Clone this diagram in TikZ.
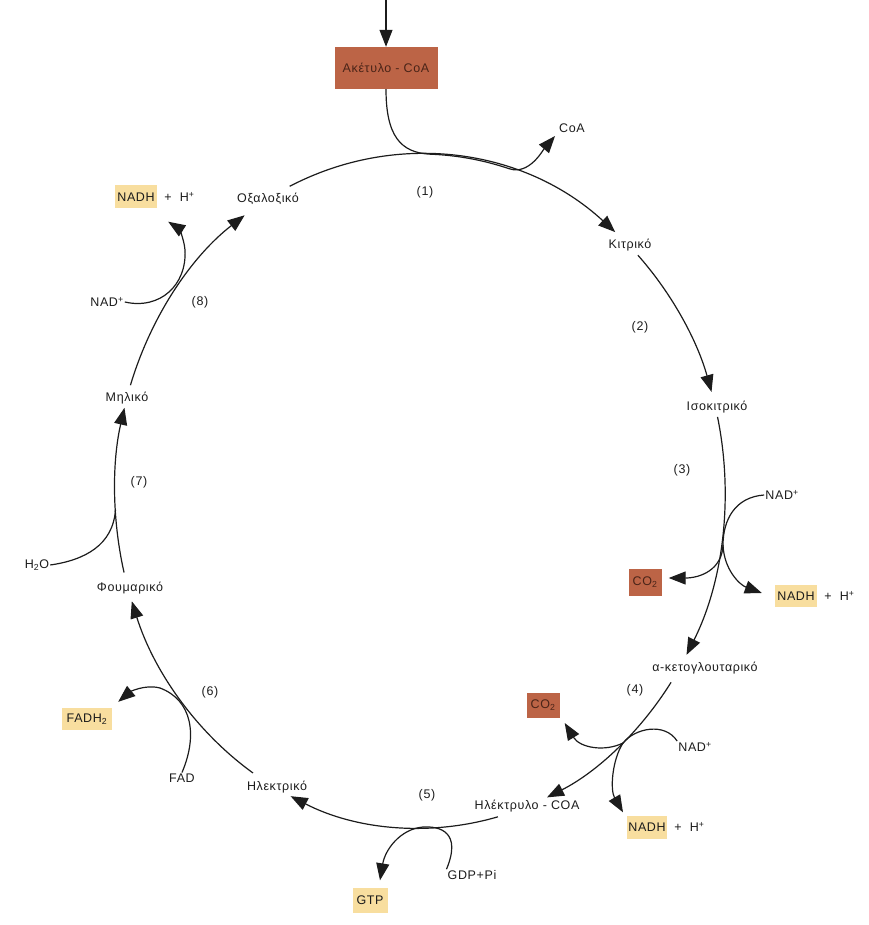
\documentclass[tikz,border=0pt]{standalone}
\usepackage{fontspec}
\setmainfont{Liberation Sans}[LetterSpace=5]
\usetikzlibrary{arrows.meta,calc}
\definecolor{ink}{HTML}{1C1C1C}
\definecolor{rust}{HTML}{BC6446}
\definecolor{rustink}{HTML}{4A2418}
\definecolor{pale}{HTML}{F8DE9F}
\tikzset{
  lbl/.style={font=\fontsize{12.5}{14}\selectfont, text=ink, inner sep=1pt},
  rustbox/.style={lbl, fill=rust, text=rustink, inner sep=0pt},
  palebox/.style={lbl, fill=pale, inner sep=0pt},
  feed/.style={draw=ink, line width=1.2pt},
  flow/.style={feed, -{Triangle[length=17pt,width=13pt]}},
  ring/.style={x radius=305, y radius=337},
}
\begin{document}
\begin{tikzpicture}[x=1pt,y=-1pt]
\useasboundingbox (0,0) rectangle (868,925);
\coordinate (C) at (420,491);

% ---- compounds of the cycle ----
\node[rustbox, minimum width=103pt, minimum height=42pt] (acoa) at (386,68) {Ακέτυλο - CoA};
\node[lbl] (coa) at (572,128) {CoA};
\node[lbl] (kitr) at (630,245) {Κιτρικό};
\node[lbl] (isok) at (717,407) {Ισοκιτρικό};
\node[lbl] (aket) at (705,668) {α-κετογλουταρικό};
\node[lbl] (hlcoa) at (527,806) {Ηλέκτρυλο - COA};
\node[lbl] (hlek) at (277,787) {Ηλεκτρικό};
\node[lbl] (foum) at (130,588) {Φουμαρικό};
\node[lbl] (mhl) at (127,398) {Μηλικό};
\node[lbl] (oxal) at (268,199) {Οξαλοξικό};

% ---- step numbers ----
\node[lbl] (n1) at (425,192) {(1)};
\node[lbl] (n2) at (640,327) {(2)};
\node[lbl] (n3) at (682,470) {(3)};
\node[lbl] (n4) at (635,690) {(4)};
\node[lbl] (n5) at (427,795) {(5)};
\node[lbl] (n6) at (210,692) {(6)};
\node[lbl] (n7) at (139,482) {(7)};
\node[lbl] (n8) at (200,302) {(8)};

% ---- cofactors and by-products ----
\node[lbl] (nad3) at (782,495) {NAD\textsuperscript{+}};
\node[rustbox, minimum width=33pt, minimum height=27pt] (co3) at (645,582) {CO\textsubscript{2}};
\node[palebox, minimum width=42pt, minimum height=22pt] (nadh3) at (796,596) {NADH};
\node[lbl, anchor=west] (h3) at ($(nadh3.east)+(6,0)$) {+\ \ H\textsuperscript{+}};

\node[lbl] (nad4) at (695,747) {NAD\textsuperscript{+}};
\node[rustbox, minimum width=33pt, minimum height=25pt] (co4) at (543,705) {CO\textsubscript{2}};
\node[palebox, minimum width=40pt, minimum height=23pt] (nadh4) at (647,827) {NADH};
\node[lbl, anchor=west] (h4) at ($(nadh4.east)+(6,0)$) {+\ \ H\textsuperscript{+}};

\node[lbl] (gdp) at (472,875) {GDP+Pi};
\node[palebox, minimum width=35pt, minimum height=25pt] (gtp) at (370,900) {GTP};

\node[lbl] (fad) at (182,778) {FAD};
\node[palebox, minimum width=50pt, minimum height=22pt] (fadh) at (87,719) {FADH\textsubscript{2}};

\node[lbl] (h2o) at (37,565) {H\textsubscript{2}O};

\node[lbl] (nad8) at (107,302) {NAD\textsuperscript{+}};
\node[palebox, minimum width=42pt, minimum height=23pt] (nadh8) at (136,197) {NADH};
\node[lbl, anchor=west] (h8) at ($(nadh8.east)+(6,0)$) {+\ \ H\textsuperscript{+}};

% ---- arc end points on the ring ----
\coordinate (s1) at ($(C)+(244.7:305 and 337)$);
\coordinate (s2) at ($(C)+(-44.4:305 and 337)$);
\coordinate (s3) at ($(C)+(-12.7:305 and 337)$);
\coordinate (s4) at ($(C)+(34.6:305 and 337)$);
\coordinate (s5) at ($(C)+(75.2:305 and 337)$);
\coordinate (s6) at ($(C)+(123.2:305 and 337)$);
\coordinate (s7) at ($(C)+(166:305 and 337)$);
\coordinate (s8) at ($(C)+(198.3:305 and 337)$);

% ---- the cycle ----
\draw[flow] (s1) arc[ring, start angle=244.7, end angle=309.8];
\draw[flow] (s2) arc[ring, start angle=-44.4, end angle=-17.1];
\draw[flow] (s3) arc[ring, start angle=-12.7, end angle=29.1];
\draw[flow] (s4) arc[ring, start angle=34.6, end angle=65.4];
\draw[flow] (s5) arc[ring, start angle=75.2, end angle=115.1];
\draw[flow] (s6) arc[ring, start angle=123.2, end angle=160.9];
\draw[flow] (s7) arc[ring, start angle=166, end angle=194.3];
\draw[flow] (s8) arc[ring, start angle=198.3, end angle=234.9];

% ---- acetyl-CoA enters, CoA leaves ----
\coordinate (feedtop) at (386,0);
\draw[flow] (feedtop) -- (acoa.north);
\coordinate (j1) at ($(C)+(-88:305 and 337)$);
\coordinate (coatip) at ($(coa.west)+(-3,8)$);
\draw[flow] (acoa.south) .. controls (386,135) and (400,153) .. (j1)
  arc[ring, start angle=-88, end angle=-73]
  .. controls (529,175.5) and (543,150) .. (coatip);

% ---- step 3: NAD+ -> NADH, CO2 released ----
\coordinate (k3) at (723,545);
\coordinate (co3tip) at ($(co3.east)+(7,-4)$);
\coordinate (nadh3tip) at ($(nadh3.west)+(-13,-3)$);
\draw[feed] (nad3.west) .. controls (735,497) and (723,520) .. (k3);
\draw[flow] (k3) .. controls (722,570) and (700,578) .. (co3tip);
\draw[flow] (k3) .. controls (724,570) and (740,585) .. (nadh3tip);

% ---- step 4: NAD+ -> NADH, CO2 released ----
\coordinate (k4) at (623,743);
\coordinate (co4tip) at ($(co4.east)+(5,18)$);
\coordinate (nadh4tip) at ($(nadh4.north)+(-24,-3)$);
\draw[feed] (nad4.north west) .. controls (665,722) and (635,728) .. (k4);
\draw[flow] (k4) .. controls (605,752) and (580,748) .. (co4tip);
\draw[flow] (k4) .. controls (612,760) and (610,790) .. (nadh4tip);

% ---- step 5: GDP + Pi -> GTP ----
\coordinate (k5) at (423,827);
\coordinate (gtptip) at ($(gtp.north)+(10,-7)$);
\draw[feed] (gdp.north west) .. controls (462,832) and (440,826) .. (k5);
\draw[flow] (k5) .. controls (400,829) and (385,850) .. (gtptip);

% ---- step 6: FAD -> FADH2 ----
\coordinate (k6) at (160,688);
\coordinate (fadhtip) at ($(fadh.north east)+(6,-6)$);
\draw[feed] (fad.north) .. controls (198,735) and (192,700) .. (k6);
\draw[flow] (k6) .. controls (145,684) and (130,692) .. (fadhtip);

% ---- step 7: water added ----
\coordinate (k7) at ($(C)+(176.8:305 and 337)$);
\draw[feed] (h2o.east) .. controls (85,560) and (113,545) .. (k7);

% ---- step 8: NAD+ -> NADH ----
\coordinate (nadh8tip) at ($(nadh8.south east)+(11,13)$);
\draw[flow] (nad8.east) .. controls (160,310) and (187,285) .. (185,250)
  .. controls (184,238) and (178,228) .. (nadh8tip);
\end{tikzpicture}
\end{document}
